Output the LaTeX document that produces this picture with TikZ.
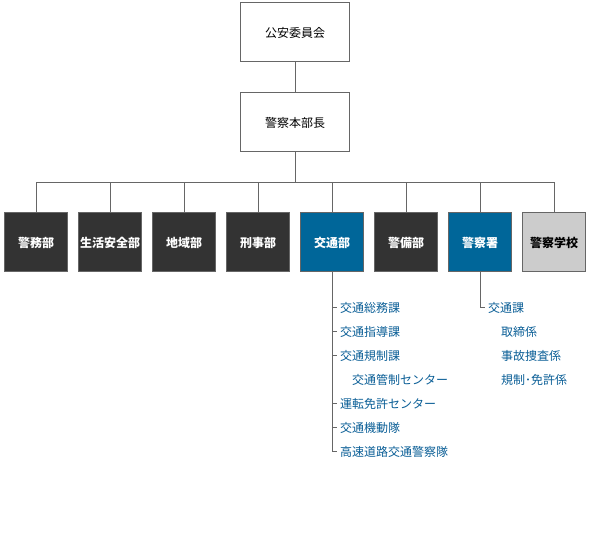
\documentclass[tikz,border=0pt]{standalone}
\usepackage{fontspec}
\newfontfamily\cjk{Noto Sans CJK JP}
\definecolor{lc}{HTML}{666666}
\definecolor{dk}{HTML}{333333}
\definecolor{bl}{HTML}{006699}
\definecolor{gr}{HTML}{CCCCCC}
\definecolor{tb}{HTML}{0A5E96}
\begin{document}
\begin{tikzpicture}[x=1pt,y=-1pt,
  font=\cjk\fontsize{12}{14}\selectfont,
  conn/.style={draw=lc,line width=1pt},
  topbox/.style={draw=lc,line width=1pt,fill=white,minimum width=109pt,minimum height=59pt,inner sep=0pt},
  dept/.style={draw=lc,line width=1pt,minimum width=63pt,minimum height=59pt,inner sep=0pt,text=white,font=\cjk\bfseries\fontsize{12}{14}\selectfont},
  ddark/.style={dept,fill=dk},
  dblue/.style={dept,fill=bl},
  dgray/.style={dept,fill=gr,text=black},
  item/.style={anchor=west,inner xsep=3pt,inner ysep=0pt,text=tb}]
\useasboundingbox (0,0) rectangle (590,540);
\node[topbox] (top) at (295,32.5) {公安委員会};
\node[topbox] (chief) at (295,122.5) {警察本部長};
\coordinate (bus) at (295,182.5);
\node[ddark] (d1) at (36,242.5) {警務部};
\node[ddark] (d2) at (110,242.5) {生活安全部};
\node[ddark] (d3) at (184,242.5) {地域部};
\node[ddark] (d4) at (258,242.5) {刑事部};
\node[dblue] (d5) at (332,242.5) {交通部};
\node[ddark] (d6) at (406,242.5) {警備部};
\node[dblue] (d7) at (480,242.5) {警察署};
\node[dgray] (d8) at (554,242.5) {警察学校};
\draw[conn] (top) -- (chief);
\draw[conn] (chief.south) -- (bus);
\draw[conn] (d1.north |- bus) -- (d8.north |- bus);
\foreach \d in {d1,d2,d3,d4,d5,d6,d7,d8} \draw[conn] (\d.north) -- (\d.north |- bus);
% 交通部
\node[item] (a1) at (337,308) {交通総務課};
\node[item] (a2) at (337,332) {交通指導課};
\node[item] (a3) at (337,356) {交通規制課};
\node[item] (a4) at (349,380) {交通管制センター};
\node[item] (a5) at (337,404) {運転免許センター};
\node[item] (a6) at (337,428) {交通機動隊};
\node[item] (a7) at (337,452) {高速道路交通警察隊};
\draw[conn] (d5.south) |- (a7.west);
\foreach \a in {a1,a2,a3,a5,a6} \draw[conn] (d5.south |- \a.west) -- (\a.west);
% 警察署
\node[item] (b1) at (485,308) {交通課};
\node[item] (b2) at (498,332) {取締係};
\node[item] (b3) at (498,356) {事故捜査係};
\node[item] (b4) at (498,380) {規制･免許係};
\draw[conn] (d7.south) |- (b1.west);
\end{tikzpicture}
\end{document}
